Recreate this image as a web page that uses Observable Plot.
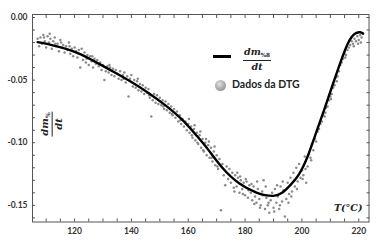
<!DOCTYPE html>
<html>
<head>
<meta charset="utf-8">
<script src="https://cdn.jsdelivr.net/npm/d3@7"></script>
<script src="https://cdn.jsdelivr.net/npm/@observablehq/plot@0.6"></script>
<style>
  html, body { margin: 0; padding: 0; background: #fff; }
  #wrap { position: relative; width: 383px; height: 241px; overflow: hidden; }
  .frac { position: absolute; font-family: "DejaVu Serif", "Liberation Serif", serif; font-weight: bold; font-style: italic; color: #222; text-align: center; line-height: 1; }
  .frac .num { display: block; padding: 0 1px 1px 1px; border-bottom: 1.3px solid #222; }
  .frac .den { display: block; padding-top: 1px; }
  .frac sub { font-size: 60%; vertical-align: -2px; font-style: normal; }
  .leg-text { position: absolute; font-family: Lato, "Open Sans", sans-serif; font-weight: bold; font-size: 10.5px; color: #222; white-space: nowrap; }
</style>
</head>
<body>
<div id="wrap"></div>
<script>
// Fitted DTG curve (T in °C, dm/dt)
const curveT = [107, 112, 117, 122, 128, 134, 140, 146, 152, 158, 163, 167, 172, 178, 184, 187, 190, 193, 196, 199, 202, 205, 208, 211, 214, 216, 217.5, 219, 220.5, 221.5];
const curveV = [-0.0197, -0.0220, -0.0250, -0.0292, -0.0362, -0.0437, -0.0515, -0.0602, -0.0702, -0.0820, -0.0945, -0.1055, -0.1200, -0.1325, -0.1398, -0.1418, -0.1424, -0.1400, -0.1337, -0.1250, -0.1110, -0.0920, -0.0725, -0.0525, -0.0330, -0.0215, -0.0155, -0.0125, -0.0118, -0.0128];

// DTG data points
const dtgT = [
  107.0,107.5,108.0,108.5,109.0,109.5,110.0,110.5,111.0,111.5,112.0,112.5,113.0,113.5,114.0,114.5,115.0,115.5,116.0,116.5,
  117.0,117.5,118.0,118.5,119.0,119.5,120.0,120.5,121.0,121.5,122.0,122.5,123.0,123.5,124.0,124.5,125.0,125.5,126.0,126.5,
  127.0,127.5,128.0,128.5,129.0,129.5,130.0,130.5,131.0,131.5,132.0,132.5,133.0,133.5,134.0,134.5,135.0,135.5,136.0,136.5,
  137.0,137.5,138.0,138.5,139.0,139.5,140.0,140.5,141.0,141.5,142.0,142.5,143.0,143.5,144.0,144.5,145.0,145.5,146.0,146.5,
  147.0,147.5,148.0,148.5,149.0,149.5,150.0,150.5,151.0,151.5,152.0,152.5,153.0,153.5,154.0,154.5,155.0,155.5,156.0,156.5,
  157.0,157.5,158.0,158.5,159.0,159.5,160.0,160.5,161.0,161.5,162.0,162.5,163.0,163.5,164.0,164.5,165.0,165.5,166.0,166.5,
  167.0,167.5,168.0,168.5,169.0,169.5,170.0,170.5,171.0,171.5,172.0,172.5,173.0,173.5,174.0,174.5,175.0,175.5,176.0,176.5,
  177.0,177.5,178.0,178.5,179.0,179.5,180.0,180.5,181.0,181.5,182.0,182.5,183.0,183.5,184.0,184.5,185.0,185.5,186.0,186.5,
  187.0,187.5,188.0,188.5,189.0,189.5,190.0,190.5,191.0,191.5,192.0,192.5,193.0,193.5,194.0,194.5,195.0,195.5,196.0,196.5,
  197.0,197.5,198.0,198.5,199.0,199.5,200.0,200.5,201.0,201.5,202.0,202.5,203.0,203.5,204.0,204.5,205.0,205.5,206.0,206.5,
  207.0,207.5,208.0,208.5,209.0,209.5,210.0,210.5,211.0,211.5,212.0,212.5,213.0,213.5,214.0,214.5,215.0,215.5,216.0,216.5,
  217.0,217.5,218.0,218.5,219.0,219.5,220.0,220.5,221.0,221.5,
  160.25,161.25,162.25,163.25,164.25,165.25,166.25,167.25,168.25,169.25,170.25,176.25,177.25,178.25,179.25,180.25,181.25,182.25,183.25,184.25,
  185.25,186.25,187.25,188.25,190.25,191.25,192.25,193.25,195.25,196.25,197.25,198.25,200.25,201.25,203.25,111.25,109.25,113.25,115.25,118.25,
  124.25,126.25,132.25,137.25,142.25,146.25,151.25,154.25,157.25,208.25,210.25,212.25,215.25,218.25,219.75,220.75
];
const dtgV = [
  -0.017,-0.023,-0.016,-0.021,-0.014,-0.019,-0.024,-0.015,-0.020,-0.017,-0.025,-0.019,-0.016,-0.023,-0.021,-0.027,-0.018,-0.024,-0.022,-0.028,
  -0.023,-0.026,-0.020,-0.029,-0.025,-0.031,-0.024,-0.027,-0.032,-0.026,-0.040,-0.025,-0.034,-0.028,-0.036,-0.030,-0.038,-0.031,-0.035,-0.040,
  -0.033,-0.037,-0.034,-0.039,-0.036,-0.042,-0.038,-0.050,-0.043,-0.039,-0.044,-0.040,-0.046,-0.041,-0.047,-0.042,-0.045,-0.049,-0.043,-0.050,
  -0.046,-0.044,-0.052,-0.047,-0.063,-0.049,-0.046,-0.055,-0.050,-0.056,-0.051,-0.058,-0.053,-0.059,-0.054,-0.061,-0.056,-0.060,-0.057,-0.064,
  -0.079,-0.066,-0.061,-0.068,-0.062,-0.069,-0.064,-0.070,-0.066,-0.073,-0.067,-0.074,-0.069,-0.076,-0.071,-0.078,-0.073,-0.080,-0.075,-0.083,
  -0.078,-0.085,-0.081,-0.087,-0.083,-0.090,-0.085,-0.092,-0.087,-0.096,-0.089,-0.098,-0.092,-0.101,-0.094,-0.104,-0.097,-0.107,-0.100,-0.110,
  -0.102,-0.112,-0.104,-0.115,-0.107,-0.118,-0.110,-0.121,-0.113,-0.154,-0.117,-0.126,-0.134,-0.119,-0.129,-0.121,-0.132,-0.124,-0.136,-0.126,
  -0.135,-0.128,-0.140,-0.130,-0.137,-0.132,-0.142,-0.131,-0.144,-0.134,-0.140,-0.146,-0.135,-0.143,-0.148,-0.137,-0.145,-0.150,-0.139,-0.130,
  -0.153,-0.144,-0.150,-0.156,-0.146,-0.140,-0.152,-0.137,-0.148,-0.143,-0.153,-0.135,-0.147,-0.138,-0.159,-0.145,-0.132,-0.141,-0.128,-0.139,
  -0.124,-0.135,-0.120,-0.131,-0.117,-0.128,-0.122,-0.126,-0.111,-0.132,-0.119,-0.109,-0.112,-0.101,-0.106,-0.097,-0.099,-0.091,-0.089,-0.085,
  -0.083,-0.078,-0.079,-0.072,-0.071,-0.066,-0.063,-0.061,-0.056,-0.054,-0.048,-0.047,-0.043,-0.038,-0.036,-0.033,-0.029,-0.030,-0.026,-0.024,
  -0.022,-0.019,-0.021,-0.017,-0.019,-0.015,-0.018,-0.014,-0.016,-0.013,
  -0.081,-0.094,-0.086,-0.100,-0.091,-0.106,-0.097,-0.099,-0.112,-0.103,-0.119,-0.139,-0.124,-0.127,-0.141,-0.129,-0.138,-0.133,-0.149,-0.131,
  -0.152,-0.142,-0.135,-0.148,-0.155,-0.134,-0.150,-0.131,-0.148,-0.143,-0.130,-0.137,-0.129,-0.121,-0.114,-0.013,-0.016,-0.021,-0.020,-0.023,
  -0.033,-0.031,-0.038,-0.049,-0.049,-0.062,-0.071,-0.077,-0.082,-0.076,-0.065,-0.051,-0.032,-0.023,-0.021,-0.020
];

// Axis ticks
const xTickLabels = [120, 140, 160, 180, 200, 220];
const xMinorTicks = [110, 115, 120, 125, 130, 135, 140, 145, 150, 155, 160, 165, 170, 175, 180, 185, 190, 195, 200, 205, 210, 215, 220];
const yTickLabels = [0, -0.05, -0.10, -0.15];
const yMinorTicks = [0, -0.01, -0.02, -0.03, -0.04, -0.05, -0.06, -0.07, -0.08, -0.09, -0.10, -0.11, -0.12, -0.13, -0.14, -0.15, -0.16];

const curve = curveT.map((t, i) => ({t, v: curveV[i]}));
const dtg = dtgT.map((t, i) => ({t, v: dtgV[i]}));

const fmtY = d => d.toFixed(2);
const tickFont = {fontFamily: "Lato, 'Open Sans', sans-serif", fontWeight: "bold", fontSize: 8.5, fill: "#333"};

const chart = Plot.plot({
  width: 383,
  height: 241,
  marginLeft: 32,
  marginRight: 14.5,
  marginTop: 14,
  marginBottom: 19.5,
  style: {background: "white", overflow: "visible"},
  x: {domain: [105.2, 223.6]},
  y: {domain: [-0.1633, 0.0024]},
  marks: [
    Plot.dot(dtg, {x: "t", y: "v", r: 1.25, fill: "#8a8a8a", stroke: "none"}),
    Plot.line(curve, {x: "t", y: "v", stroke: "#000", strokeWidth: 2.4, curve: "natural"}),
    Plot.frame({stroke: "#555", strokeWidth: 1}),
    Plot.axisX(xMinorTicks, {anchor: "bottom", tickSize: -3, tickFormat: () => "", label: null, stroke: "#555"}),
    Plot.axisX(xMinorTicks, {anchor: "top", tickSize: -3, tickFormat: () => "", label: null, stroke: "#555"}),
    Plot.axisY(yMinorTicks, {anchor: "left", tickSize: -3, tickFormat: () => "", label: null, stroke: "#555"}),
    Plot.axisY(yMinorTicks, {anchor: "right", tickSize: -3, tickFormat: () => "", label: null, stroke: "#555"}),
    Plot.axisX(xTickLabels, {anchor: "bottom", tickSize: 0, tickPadding: 6, label: null, tickFormat: d => String(d), ...tickFont}),
    Plot.axisY(yTickLabels, {anchor: "left", tickSize: 0, tickPadding: 5, label: null, tickFormat: fmtY, ...tickFont})
  ]
});

const wrap = document.getElementById("wrap");
wrap.appendChild(chart);

// Y-axis label (rotated fraction)
const ylab = document.createElement("div");
ylab.className = "frac";
ylab.style.cssText = "font-size:10px; left:39px; top:112px; transform: rotate(-90deg); transform-origin: 50% 50%;";
ylab.innerHTML = '<span class="num">dm<sub>%</sub></span><span class="den">dt</span>';
wrap.appendChild(ylab);

// X-axis label
const xlab = document.createElement("div");
xlab.style.cssText = "position:absolute; left:334px; top:202px; font-family:'DejaVu Serif','Liberation Serif',serif; font-weight:bold; font-style:italic; font-size:9.5px; color:#222; white-space:nowrap;";
xlab.textContent = "T(°C)";
wrap.appendChild(xlab);

// Legend: line
const legLine = document.createElement("div");
legLine.style.cssText = "position:absolute; left:213px; top:55px; width:18px; height:2.5px; background:#000;";
wrap.appendChild(legLine);
const legFrac = document.createElement("div");
legFrac.className = "frac";
legFrac.style.cssText = "font-size:9.5px; left:243px; top:47px;";
legFrac.innerHTML = '<span class="num">dm<sub>%8</sub></span><span class="den">dt</span>';
wrap.appendChild(legFrac);

// Legend: data dot
const legDot = document.createElement("div");
legDot.style.cssText = "position:absolute; left:215px; top:80px; width:11px; height:11px; border-radius:50%; background: radial-gradient(circle at 40% 35%, #e0e0e0 0%, #a8a8a8 55%, #808080 100%);";
wrap.appendChild(legDot);
const legText = document.createElement("div");
legText.className = "leg-text";
legText.style.cssText = "left:232px; top:78px;";
legText.textContent = "Dados da DTG";
wrap.appendChild(legText);
</script>
</body>
</html>
